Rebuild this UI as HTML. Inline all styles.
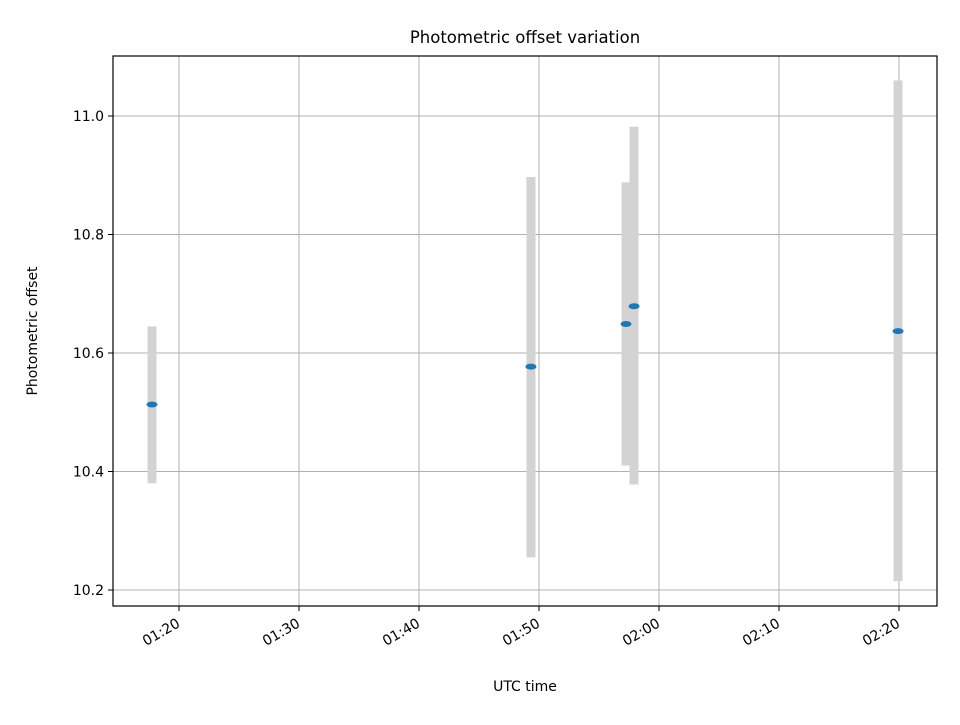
<!DOCTYPE html>
<html><head><meta charset="utf-8"><style>
body{margin:0;background:#fff}
svg text{font-family:"DejaVu Sans","Liberation Sans",sans-serif;fill:#000}
</style></head><body>
<svg id="c" width="960" height="720" viewBox="0 0 960 720" xmlns="http://www.w3.org/2000/svg">
<rect width="960" height="720" fill="#fff"/>
<text x="525" y="43" font-size="16.5" text-anchor="middle">Photometric offset variation</text>
<g id="grid"></g><g id="bars"></g><g id="pts"></g><g id="ax"></g>
<rect x="113" y="56" width="824" height="550" fill="none" stroke="#000" stroke-width="1.2"/>
<text x="525" y="691" font-size="14" text-anchor="middle">UTC time</text>
<text transform="translate(37,331) rotate(-90)" font-size="14" text-anchor="middle">Photometric offset</text>
</svg>
<script>
const times=[77.75,109.33,117.25,117.92,139.92]; // minutes after 00:00
const values=[10.513,10.577,10.649,10.679,10.637];
const errLow=[10.38,10.255,10.41,10.378,10.215];
const errHigh=[10.645,10.897,10.888,10.982,11.06];
const xTicks=[80,90,100,110,120,130,140];
const xTickLabels=["01:20","01:30","01:40","01:50","02:00","02:10","02:20"];
const yTicks=[10.2,10.4,10.6,10.8,11.0];
const yTickLabels=["10.2","10.4","10.6","10.8","11.0"];
const X=m=>179+(m-80)*12;
const Y=v=>590-(v-10.2)/0.2*118.5;
const NS="http://www.w3.org/2000/svg";
function mk(p,t,a){const e=document.createElementNS(NS,t);for(const k in a)e.setAttribute(k,a[k]);document.getElementById(p).appendChild(e);return e;}
xTicks.forEach((t,i)=>{
 const g=mk('grid','line',{x1:X(t),x2:X(t),y1:56,y2:606,stroke:'#b0b0b0','stroke-width':1});
 
 
 mk('ax','line',{x1:X(t),x2:X(t),y1:606,y2:611,stroke:'#000'});
 const tx=mk('ax','text',{x:X(t)+2,y:626,'font-size':14,'text-anchor':'end',transform:`rotate(-30 ${X(t)+2} 626)`});
 tx.textContent=xTickLabels[i];
 
 
});
yTicks.forEach((t,i)=>{
 const g=mk('grid','line',{x1:113,x2:937,y1:Y(t),y2:Y(t),stroke:'#b0b0b0','stroke-width':1});
 
 
 mk('ax','line',{x1:108,x2:113,y1:Y(t),y2:Y(t),stroke:'#000'});
 const tx=mk('ax','text',{x:104,y:Y(t)+5,'font-size':14,'text-anchor':'end'});
 tx.textContent=yTickLabels[i];
 
 
});
times.forEach((t,i)=>{
 const b=mk('bars','rect',{x:X(t)-4.5,y:Y(errHigh[i]),width:9,height:Y(errLow[i])-Y(errHigh[i]),fill:'#d3d3d3'});
 
 
 const p=mk('pts','ellipse',{cx:X(t),cy:Y(values[i]),rx:5.5,ry:3,fill:'#1f77b4'});
 
 
});
</script>
</body></html>
